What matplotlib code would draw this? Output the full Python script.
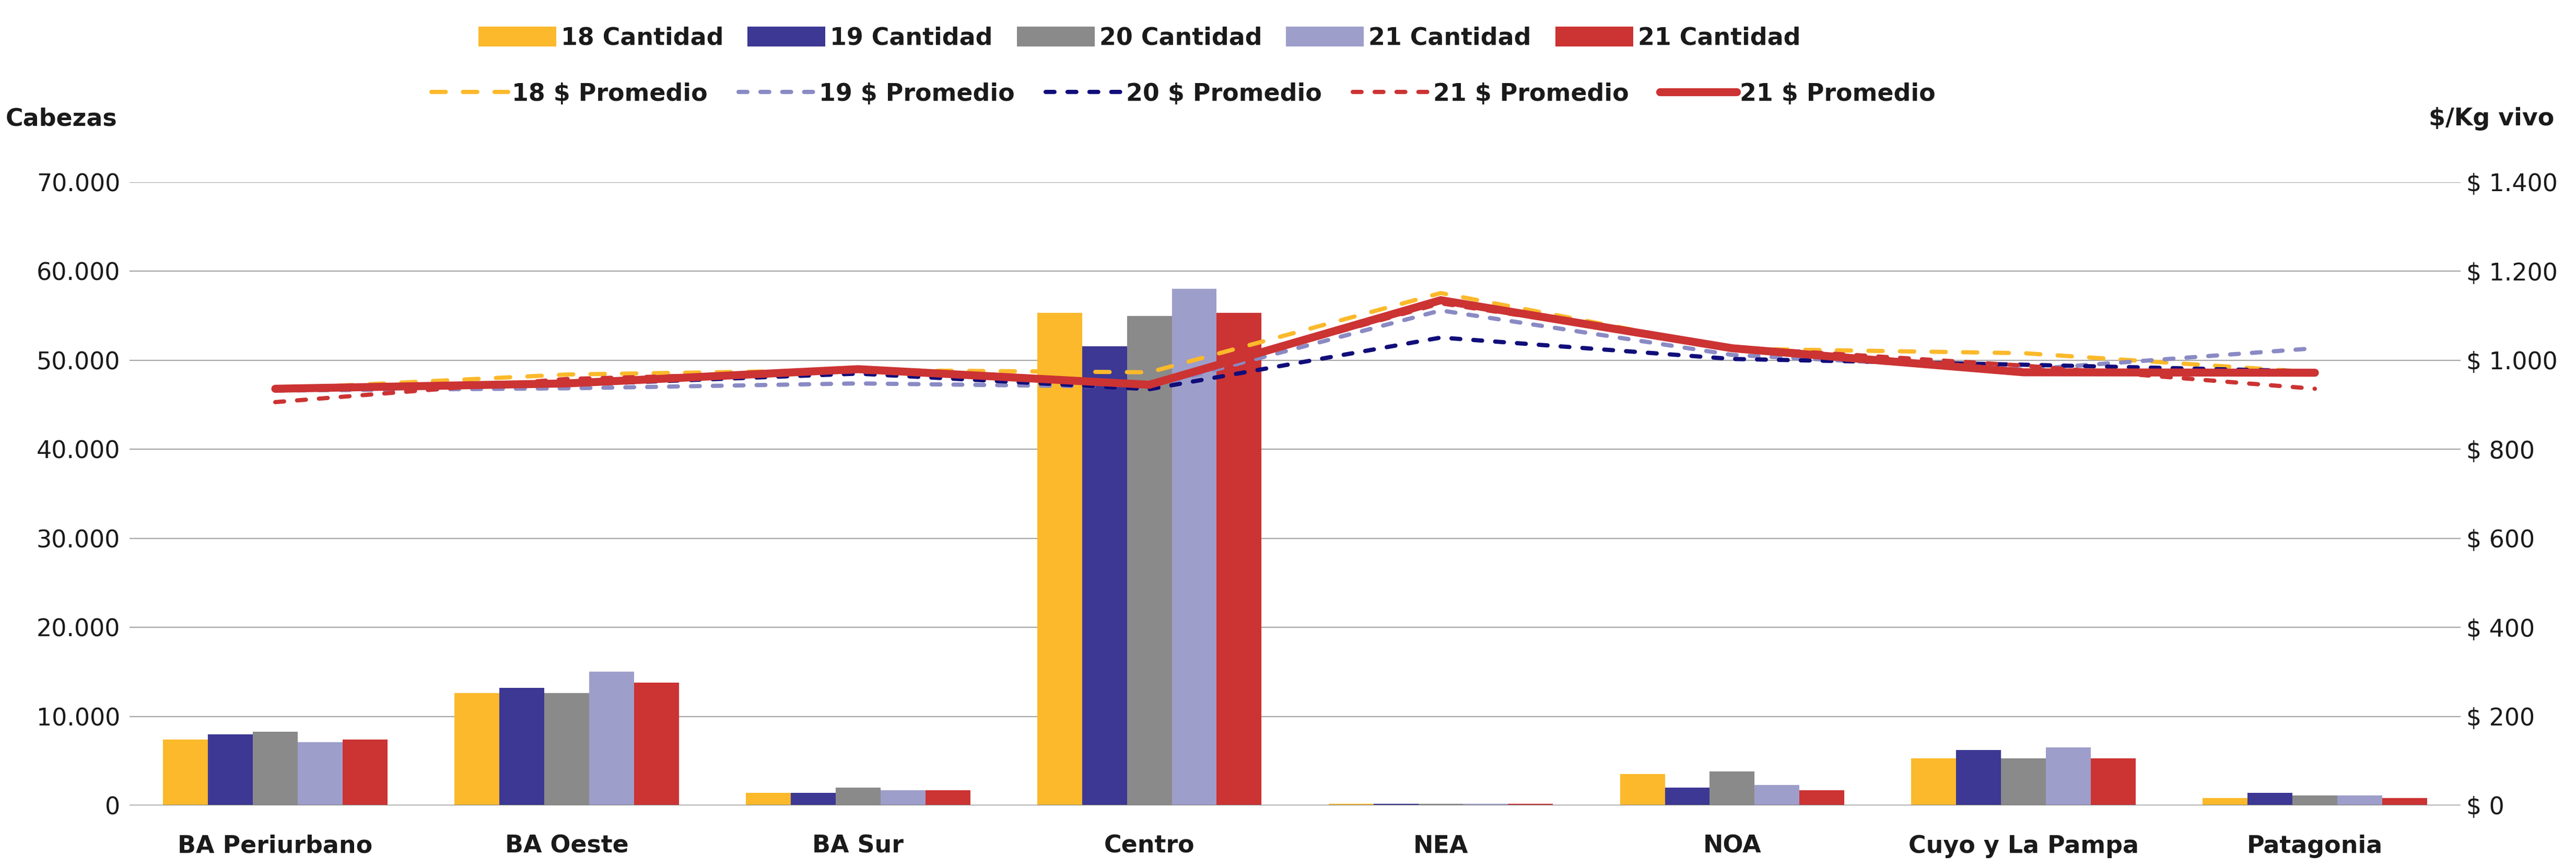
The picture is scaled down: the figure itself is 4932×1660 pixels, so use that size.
import numpy as np
import matplotlib
matplotlib.use("Agg")
import matplotlib.pyplot as plt
from matplotlib.patches import Patch
from matplotlib.lines import Line2D

plt.rcParams['font.family'] = ['DejaVu Sans']
plt.rcParams['text.parse_math'] = False

# datos
regiones = ["BA Periurbano", "BA Oeste", "BA Sur", "Centro", "NEA", "NOA",
            "Cuyo y La Pampa", "Patagonia"]

cant_18 = [7400, 12600, 1400, 55300, 170, 3500, 5300, 800]
cant_19 = [8000, 13200, 1400, 51600, 170, 2000, 6200, 1400]
cant_20 = [8300, 12600, 2000, 55000, 170, 3800, 5300, 1100]
cant_21a = [7100, 15000, 1700, 58000, 170, 2300, 6500, 1100]
cant_21b = [7400, 13800, 1700, 55300, 170, 1700, 5300, 800]

prom_18 = [936, 968, 978, 973, 1151, 1026, 1016, 973]
prom_19 = [932, 937, 948, 940, 1112, 1012, 979, 1027]
prom_20 = [937, 945, 970, 935, 1051, 1003, 990, 975]
prom_21a = [906, 958, 975, 945, 1128, 1029, 988, 936]
prom_21b = [936, 948, 980, 945, 1135, 1027, 973, 972]

etiq_cant = ["18 Cantidad", "19 Cantidad", "20 Cantidad", "21 Cantidad", "21 Cantidad"]
etiq_prom = ["18 $ Promedio", "19 $ Promedio", "20 $ Promedio", "21 $ Promedio", "21 $ Promedio"]

col_barras = ["#FBB92B", "#3C3894", "#8A8A8A", "#9E9ECB", "#CC3333"]
col_lineas = ["#FBB92B", "#8A8AC4", "#110D7A", "#CC3333", "#CC3333"]

fig = plt.figure(figsize=(49.32, 16.60), dpi=100)
ax = fig.add_axes([0.0503, 0.0711, 0.9049, 0.7187])
ax2 = ax.twinx()

x = np.arange(len(regiones))
ancho = 0.154
series = [cant_18, cant_19, cant_20, cant_21a, cant_21b]
for k, s in enumerate(series):
    ax.bar(x + (k - 2) * ancho, s, width=ancho, color=col_barras[k], zorder=2)

ax.set_xlim(-0.5, len(regiones) - 0.5)
ax.set_ylim(0, 70000)
ax.set_yticks(range(0, 70001, 10000))
ax.set_yticklabels([f"{v:,}".replace(",", ".") for v in range(0, 70001, 10000)])
ax.yaxis.grid(True, color="#A6A6A6", linewidth=1.6, zorder=0)
ax.set_axisbelow(True)
ax.axhline(0, color="#7F7F7F", linewidth=1.6, zorder=3)
ax.set_xticks(x)
ax.set_xticklabels(regiones, fontsize=33, fontweight="bold", color="#1A1A1A")
ax.tick_params(axis="x", length=0, pad=40)
ax.tick_params(axis="y", length=0, pad=13, labelsize=33, labelcolor="#1A1A1A")
for sp in ax.spines.values():
    sp.set_visible(False)

# lineas de precio
proms = [prom_18, prom_19, prom_20, prom_21a, prom_21b]
estilos = [(0, (3.4, 4.1)), (0, (2.1, 3.1)), (0, (2.1, 3.1)), (0, (2.1, 3.1)), "-"]
anchos = [5.8, 5.8, 5.8, 5.8, 11]
for k, p in enumerate(proms):
    ax2.plot(x, p, color=col_lineas[k], linestyle=estilos[k], linewidth=anchos[k],
             dash_capstyle="round", solid_capstyle="round", solid_joinstyle="miter", zorder=4 + k)

ax2.set_ylim(0, 1400)
ax2.set_yticks(range(0, 1401, 200))
ax2.set_yticklabels([("$ " + f"{v:,}".replace(",", ".")) for v in range(0, 1401, 200)])
ax2.tick_params(axis="y", length=0, pad=8, labelsize=33, labelcolor="#1A1A1A")
for sp in ax2.spines.values():
    sp.set_visible(False)
ax.set_zorder(1)
ax2.set_zorder(2)
ax2.patch.set_visible(False)

fig.text(11 / 4932, 1 - 228 / 1660, "Cabezas", fontsize=33, fontweight="bold",
         color="#1A1A1A", ha="left", va="center")
fig.text(4890 / 4932, 1 - 228 / 1660, "$/Kg vivo", fontsize=33, fontweight="bold",
         color="#1A1A1A", ha="right", va="center")

# leyendas
h1 = [Patch(facecolor=c) for c in col_barras]
leg1 = fig.legend(h1, etiq_cant, loc="center", bbox_to_anchor=(0.4423, 1 - 73 / 1660),
                  ncol=5, frameon=False, fontsize=33, handlelength=3.25, handleheight=0.9,
                  handletextpad=0.2, columnspacing=1.0)
for t in leg1.get_texts():
    t.set_fontweight("bold")
    t.set_color("#1A1A1A")

h2 = [Line2D([0], [0], color=col_lineas[k], linestyle=estilos[k], linewidth=anchos[k],
             dash_capstyle="round", solid_capstyle="round") for k in range(5)]
leg2 = fig.legend(h2, etiq_prom, loc="center", bbox_to_anchor=(0.4595, 1 - 180 / 1660),
                  ncol=5, frameon=False, fontsize=33, handlelength=3.2,
                  handletextpad=0.15, columnspacing=1.3)
for t in leg2.get_texts():
    t.set_fontweight("bold")
    t.set_color("#1A1A1A")

fig.savefig("out.png", dpi=100)
